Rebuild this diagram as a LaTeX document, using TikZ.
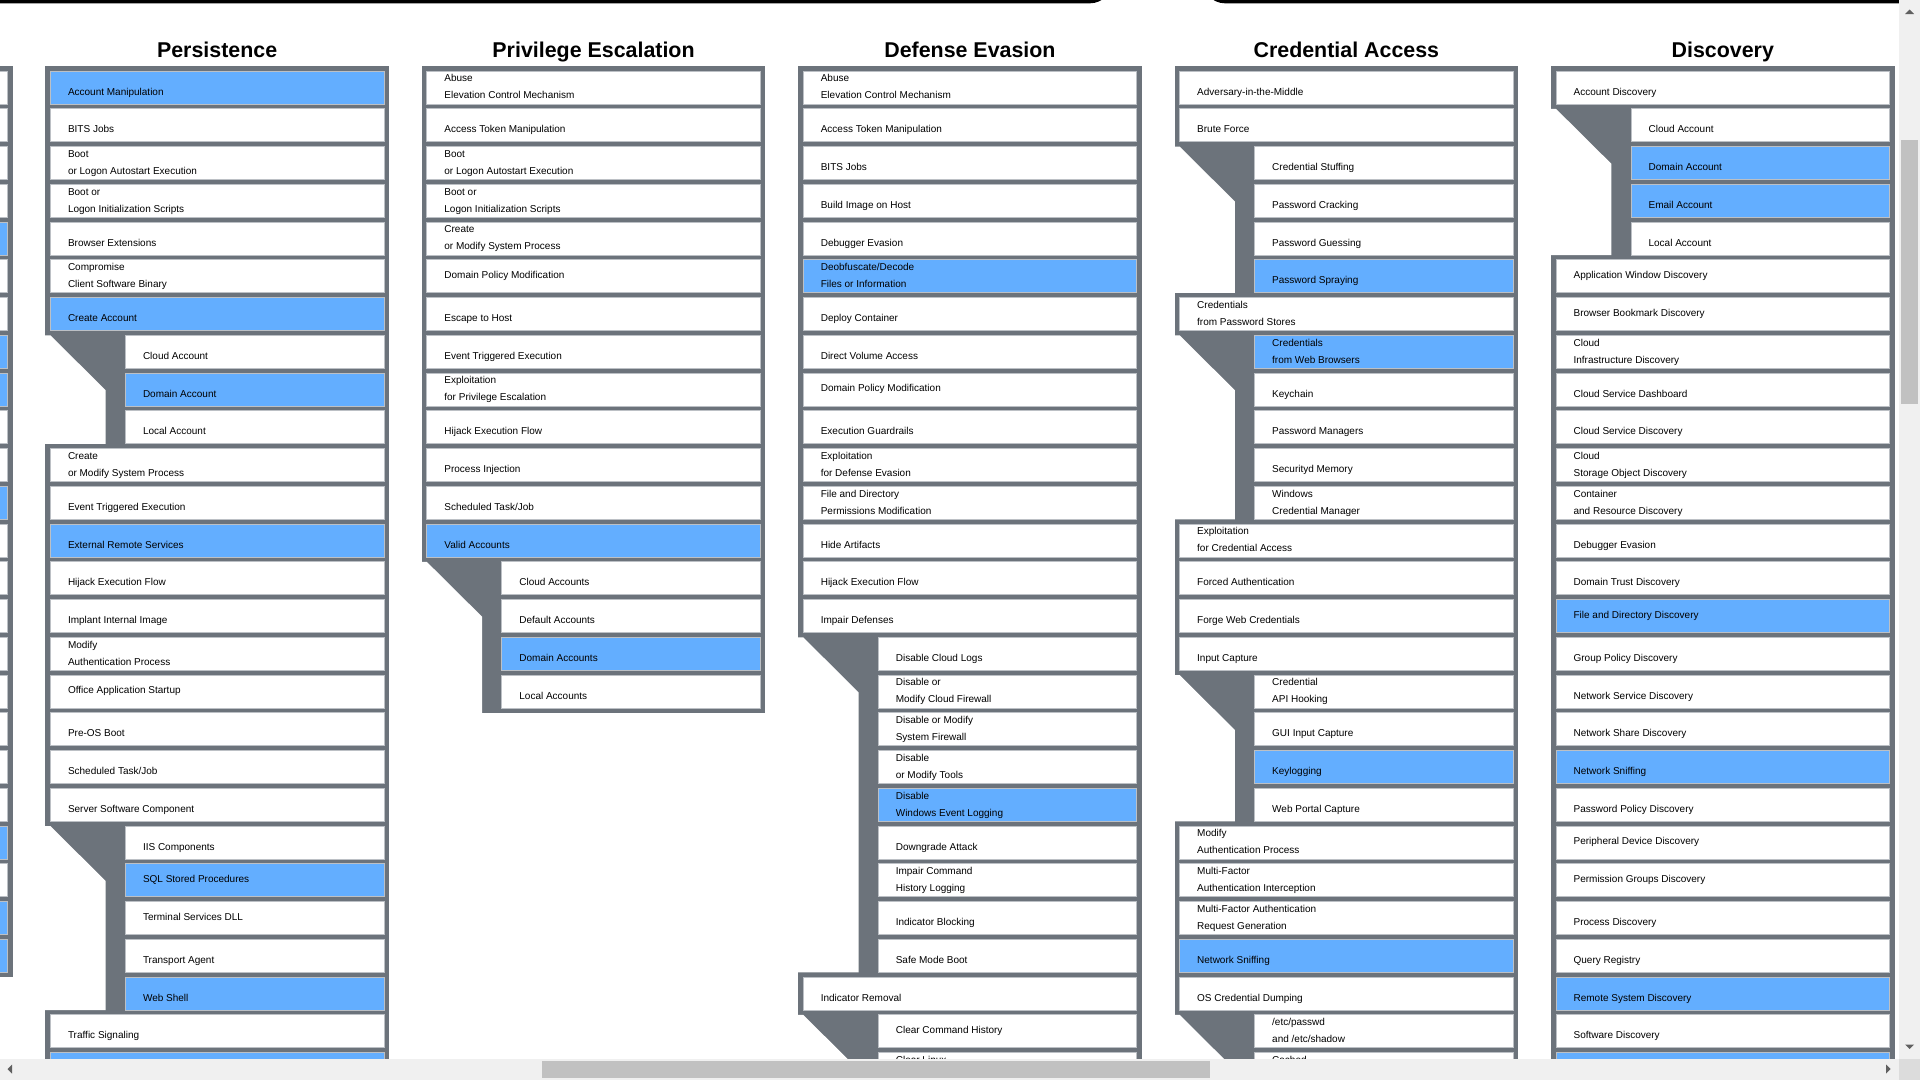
\documentclass[tikz,border=0pt]{standalone}
\usepackage{fontspec}
\setmainfont{Liberation Sans}
\definecolor{frgray}{RGB}{108,115,123}
\definecolor{cb}{RGB}{99,174,255}
\definecolor{cw}{RGB}{255,255,255}
\definecolor{cline}{RGB}{188,192,197}
\definecolor{sbbg}{RGB}{240,240,240}
\definecolor{sbthumb}{RGB}{193,193,193}
\definecolor{sbcorner}{RGB}{220,220,220}
\definecolor{sbarrow}{RGB}{96,96,96}
\tikzset{
  cellbox/.style={rectangle,draw=cline,line width=0.8bp,minimum height=33bp,inner sep=0pt,outer sep=0pt},
  lbl/.style={anchor=base west,inner sep=0pt,outer sep=0pt,font=\fontsize{10bp}{12bp}\selectfont,text=black},
  ttl/.style={anchor=base,inner sep=0pt,font=\fontsize{21.4bp}{24bp}\selectfont\bfseries,text=black},
  colframe/.style={fill=frgray},
  subgapfill/.style={fill=white}
}
% #1 column, #2 row, #3 sub(0/1), #4 fill colour, #5 mode (0 low,1 centred,2 two lines), #6 line1, #7 line2
\newcommand\tcell[7]{%
  \pgfmathsetmacro\Lx{45.3+376.4*#1}%
  \pgfmathsetmacro\cX{\Lx+(#3==1?80:5)}%
  \pgfmathsetmacro\cW{(#3==1?258.7:333.7)}%
  \pgfmathsetmacro\cY{71+37.75*#2}%
  \node[cellbox,fill=#4,minimum width=\cW bp,anchor=north west] (c#1-#2) at (\cX,\cY) {};%
  \ifcase#5
    \node[lbl] (t#1-#2) at (\cX+17.7,\cY+24.2) {#6};%
  \or
    \node[lbl] (t#1-#2) at (\cX+17.7,\cY+18.7) {#6};%
  \or
    \node[lbl] (t#1-#2) at (\cX+17.7,\cY+10.9) {#6};%
    \node[lbl] (u#1-#2) at (\cX+17.7,\cY+27.9) {#7};%
  \fi}
% left partial column cell: #1 row, #2 colour
\newcommand\lcell[2]{%
  \pgfmathsetmacro\cY{71+37.75*#1}%
  \node[cellbox,fill=#2,minimum width=333.7bp,anchor=north west] (e-#1) at (-326.1,\cY) {};}
% white area left of a sub-technique bar: #1 column, #2 parent row, #3 bottom y
\newcommand\subgap[3]{%
  \pgfmathsetmacro\Lx{45.3+376.4*#1}%
  \pgfmathsetmacro\yA{71+37.75*(#2+1)}%
  \fill[subgapfill] (\Lx-0.6,\yA) -- (\Lx+5,\yA) -- (\Lx+60.4,\yA+55) -- (\Lx+60.4,#3) -- (\Lx-0.6,#3) -- cycle;}
% column frame: #1 column, #2 bottom y
\newcommand\colframe[2]{%
  \pgfmathsetmacro\Lx{45.3+376.4*#1}%
  \fill[colframe] (\Lx,66) rectangle (\Lx+343.7,#2);}

\begin{document}
\begin{tikzpicture}[x=1bp,y=-1bp]
\useasboundingbox (0,0) rectangle (1920,1080);
\fill[white] (0,0) rectangle (1920,1080);

\begin{scope}
\clip (0,0) rectangle (1899,1059);
% top bars
\fill[black,rounded corners=22bp] (-80,-40) rectangle (1112,3.3);
\fill[black,rounded corners=22bp] (1203,-40) rectangle (1990,3.3);

% titles
\node[ttl] (h0) at (217.15,57) {Persistence};
\node[ttl] (h1) at (593.55,57) {Privilege Escalation};
\node[ttl] (h2) at (969.95,57) {Defense Evasion};
\node[ttl] (h3) at (1346.35,57) {Credential Access};
\node[ttl] (h4) at (1722.75,57) {Discovery};

% frames
\colframe{-1}{977.25}
\colframe{0}{1100}
\colframe{1}{713}
\colframe{2}{1100}
\colframe{3}{1100}
\colframe{4}{1100}

% sub-technique gaps
\subgap{0}{6}{443.75}
\subgap{0}{19}{1010}
\subgap{1}{12}{713}
\subgap{2}{14}{972.25}
\subgap{2}{24}{1100}
\subgap{3}{1}{292.75}
\subgap{3}{6}{519.25}
\subgap{3}{15}{821.25}
\subgap{3}{24}{1100}
\subgap{4}{0}{255}

% left partial column
\lcell{0}{cw}\lcell{1}{cw}\lcell{2}{cw}\lcell{3}{cw}\lcell{4}{cb}\lcell{5}{cw}
\lcell{6}{cw}\lcell{7}{cb}\lcell{8}{cb}\lcell{9}{cw}\lcell{10}{cw}\lcell{11}{cb}
\lcell{12}{cw}\lcell{13}{cw}\lcell{14}{cw}\lcell{15}{cw}\lcell{16}{cw}\lcell{17}{cw}
\lcell{18}{cw}\lcell{19}{cw}\lcell{20}{cb}\lcell{21}{cw}\lcell{22}{cb}\lcell{23}{cb}

% Persistence
\tcell{0}{0}{0}{cb}{0}{Account Manipulation}{}
\tcell{0}{1}{0}{cw}{0}{BITS Jobs}{}
\tcell{0}{2}{0}{cw}{2}{Boot}{or Logon Autostart Execution}
\tcell{0}{3}{0}{cw}{2}{Boot or}{Logon Initialization Scripts}
\tcell{0}{4}{0}{cw}{0}{Browser Extensions}{}
\tcell{0}{5}{0}{cw}{2}{Compromise}{Client Software Binary}
\tcell{0}{6}{0}{cb}{0}{Create Account}{}
\tcell{0}{7}{1}{cw}{0}{Cloud Account}{}
\tcell{0}{8}{1}{cb}{0}{Domain Account}{}
\tcell{0}{9}{1}{cw}{0}{Local Account}{}
\tcell{0}{10}{0}{cw}{2}{Create}{or Modify System Process}
\tcell{0}{11}{0}{cw}{0}{Event Triggered Execution}{}
\tcell{0}{12}{0}{cb}{0}{External Remote Services}{}
\tcell{0}{13}{0}{cw}{0}{Hijack Execution Flow}{}
\tcell{0}{14}{0}{cw}{0}{Implant Internal Image}{}
\tcell{0}{15}{0}{cw}{2}{Modify}{Authentication Process}
\tcell{0}{16}{0}{cw}{1}{Office Application Startup}{}
\tcell{0}{17}{0}{cw}{0}{Pre-OS Boot}{}
\tcell{0}{18}{0}{cw}{0}{Scheduled Task/Job}{}
\tcell{0}{19}{0}{cw}{0}{Server Software Component}{}
\tcell{0}{20}{1}{cw}{0}{IIS Components}{}
\tcell{0}{21}{1}{cb}{1}{SQL Stored Procedures}{}
\tcell{0}{22}{1}{cw}{1}{Terminal Services DLL}{}
\tcell{0}{23}{1}{cw}{0}{Transport Agent}{}
\tcell{0}{24}{1}{cb}{0}{Web Shell}{}
\tcell{0}{25}{0}{cw}{0}{Traffic Signaling}{}
\tcell{0}{26}{0}{cb}{0}{}{}

% Privilege Escalation
\tcell{1}{0}{0}{cw}{2}{Abuse}{Elevation Control Mechanism}
\tcell{1}{1}{0}{cw}{0}{Access Token Manipulation}{}
\tcell{1}{2}{0}{cw}{2}{Boot}{or Logon Autostart Execution}
\tcell{1}{3}{0}{cw}{2}{Boot or}{Logon Initialization Scripts}
\tcell{1}{4}{0}{cw}{2}{Create}{or Modify System Process}
\tcell{1}{5}{0}{cw}{1}{Domain Policy Modification}{}
\tcell{1}{6}{0}{cw}{0}{Escape to Host}{}
\tcell{1}{7}{0}{cw}{0}{Event Triggered Execution}{}
\tcell{1}{8}{0}{cw}{2}{Exploitation}{for Privilege Escalation}
\tcell{1}{9}{0}{cw}{0}{Hijack Execution Flow}{}
\tcell{1}{10}{0}{cw}{0}{Process Injection}{}
\tcell{1}{11}{0}{cw}{0}{Scheduled Task/Job}{}
\tcell{1}{12}{0}{cb}{0}{Valid Accounts}{}
\tcell{1}{13}{1}{cw}{0}{Cloud Accounts}{}
\tcell{1}{14}{1}{cw}{0}{Default Accounts}{}
\tcell{1}{15}{1}{cb}{0}{Domain Accounts}{}
\tcell{1}{16}{1}{cw}{0}{Local Accounts}{}

% Defense Evasion
\tcell{2}{0}{0}{cw}{2}{Abuse}{Elevation Control Mechanism}
\tcell{2}{1}{0}{cw}{0}{Access Token Manipulation}{}
\tcell{2}{2}{0}{cw}{0}{BITS Jobs}{}
\tcell{2}{3}{0}{cw}{0}{Build Image on Host}{}
\tcell{2}{4}{0}{cw}{0}{Debugger Evasion}{}
\tcell{2}{5}{0}{cb}{2}{Deobfuscate/Decode}{Files or Information}
\tcell{2}{6}{0}{cw}{0}{Deploy Container}{}
\tcell{2}{7}{0}{cw}{0}{Direct Volume Access}{}
\tcell{2}{8}{0}{cw}{1}{Domain Policy Modification}{}
\tcell{2}{9}{0}{cw}{0}{Execution Guardrails}{}
\tcell{2}{10}{0}{cw}{2}{Exploitation}{for Defense Evasion}
\tcell{2}{11}{0}{cw}{2}{File and Directory}{Permissions Modification}
\tcell{2}{12}{0}{cw}{0}{Hide Artifacts}{}
\tcell{2}{13}{0}{cw}{0}{Hijack Execution Flow}{}
\tcell{2}{14}{0}{cw}{0}{Impair Defenses}{}
\tcell{2}{15}{1}{cw}{0}{Disable Cloud Logs}{}
\tcell{2}{16}{1}{cw}{2}{Disable or}{Modify Cloud Firewall}
\tcell{2}{17}{1}{cw}{2}{Disable or Modify}{System Firewall}
\tcell{2}{18}{1}{cw}{2}{Disable}{or Modify Tools}
\tcell{2}{19}{1}{cb}{2}{Disable}{Windows Event Logging}
\tcell{2}{20}{1}{cw}{0}{Downgrade Attack}{}
\tcell{2}{21}{1}{cw}{2}{Impair Command}{History Logging}
\tcell{2}{22}{1}{cw}{0}{Indicator Blocking}{}
\tcell{2}{23}{1}{cw}{0}{Safe Mode Boot}{}
\tcell{2}{24}{0}{cw}{0}{Indicator Removal}{}
\tcell{2}{25}{1}{cw}{1}{Clear Command History}{}
\tcell{2}{26}{1}{cw}{2}{Clear Linux}{or Mac System Logs}

% Credential Access
\tcell{3}{0}{0}{cw}{0}{Adversary-in-the-Middle}{}
\tcell{3}{1}{0}{cw}{0}{Brute Force}{}
\tcell{3}{2}{1}{cw}{0}{Credential Stuffing}{}
\tcell{3}{3}{1}{cw}{0}{Password Cracking}{}
\tcell{3}{4}{1}{cw}{0}{Password Guessing}{}
\tcell{3}{5}{1}{cb}{0}{Password Spraying}{}
\tcell{3}{6}{0}{cw}{2}{Credentials}{from Password Stores}
\tcell{3}{7}{1}{cb}{2}{Credentials}{from Web Browsers}
\tcell{3}{8}{1}{cw}{0}{Keychain}{}
\tcell{3}{9}{1}{cw}{0}{Password Managers}{}
\tcell{3}{10}{1}{cw}{0}{Securityd Memory}{}
\tcell{3}{11}{1}{cw}{2}{Windows}{Credential Manager}
\tcell{3}{12}{0}{cw}{2}{Exploitation}{for Credential Access}
\tcell{3}{13}{0}{cw}{0}{Forced Authentication}{}
\tcell{3}{14}{0}{cw}{0}{Forge Web Credentials}{}
\tcell{3}{15}{0}{cw}{0}{Input Capture}{}
\tcell{3}{16}{1}{cw}{2}{Credential}{API Hooking}
\tcell{3}{17}{1}{cw}{0}{GUI Input Capture}{}
\tcell{3}{18}{1}{cb}{0}{Keylogging}{}
\tcell{3}{19}{1}{cw}{0}{Web Portal Capture}{}
\tcell{3}{20}{0}{cw}{2}{Modify}{Authentication Process}
\tcell{3}{21}{0}{cw}{2}{Multi-Factor}{Authentication Interception}
\tcell{3}{22}{0}{cw}{2}{Multi-Factor Authentication}{Request Generation}
\tcell{3}{23}{0}{cb}{0}{Network Sniffing}{}
\tcell{3}{24}{0}{cw}{0}{OS Credential Dumping}{}
\tcell{3}{25}{1}{cw}{2}{/etc/passwd}{and /etc/shadow}
\tcell{3}{26}{1}{cw}{2}{Cached}{Domain Credentials}

% Discovery
\tcell{4}{0}{0}{cw}{0}{Account Discovery}{}
\tcell{4}{1}{1}{cw}{0}{Cloud Account}{}
\tcell{4}{2}{1}{cb}{0}{Domain Account}{}
\tcell{4}{3}{1}{cb}{0}{Email Account}{}
\tcell{4}{4}{1}{cw}{0}{Local Account}{}
\tcell{4}{5}{0}{cw}{1}{Application Window Discovery}{}
\tcell{4}{6}{0}{cw}{1}{Browser Bookmark Discovery}{}
\tcell{4}{7}{0}{cw}{2}{Cloud}{Infrastructure Discovery}
\tcell{4}{8}{0}{cw}{0}{Cloud Service Dashboard}{}
\tcell{4}{9}{0}{cw}{0}{Cloud Service Discovery}{}
\tcell{4}{10}{0}{cw}{2}{Cloud}{Storage Object Discovery}
\tcell{4}{11}{0}{cw}{2}{Container}{and Resource Discovery}
\tcell{4}{12}{0}{cw}{0}{Debugger Evasion}{}
\tcell{4}{13}{0}{cw}{0}{Domain Trust Discovery}{}
\tcell{4}{14}{0}{cb}{1}{File and Directory Discovery}{}
\tcell{4}{15}{0}{cw}{0}{Group Policy Discovery}{}
\tcell{4}{16}{0}{cw}{0}{Network Service Discovery}{}
\tcell{4}{17}{0}{cw}{0}{Network Share Discovery}{}
\tcell{4}{18}{0}{cb}{0}{Network Sniffing}{}
\tcell{4}{19}{0}{cw}{0}{Password Policy Discovery}{}
\tcell{4}{20}{0}{cw}{1}{Peripheral Device Discovery}{}
\tcell{4}{21}{0}{cw}{1}{Permission Groups Discovery}{}
\tcell{4}{22}{0}{cw}{0}{Process Discovery}{}
\tcell{4}{23}{0}{cw}{0}{Query Registry}{}
\tcell{4}{24}{0}{cb}{0}{Remote System Discovery}{}
\tcell{4}{25}{0}{cw}{0}{Software Discovery}{}
\tcell{4}{26}{0}{cb}{0}{}{}
\end{scope}

% scrollbars
\fill[sbbg] (1899,0) rectangle (1920,1059);
\fill[sbthumb] (1901,140) rectangle (1918,404);
\fill[sbbg] (0,1059) rectangle (1899,1080);
\fill[sbthumb] (542,1061) rectangle (1210,1077.7);
\fill[sbcorner] (1899,1059) rectangle (1920,1080);
\fill[sbarrow] (1905,14) -- (1914,14) -- (1909.5,9.5) -- cycle;
\fill[sbarrow] (1905,1044.5) -- (1914,1044.5) -- (1909.5,1049) -- cycle;
\fill[sbarrow] (12,1064.5) -- (12,1073.5) -- (7.5,1069) -- cycle;
\fill[sbarrow] (1886,1064.5) -- (1886,1073.5) -- (1890.5,1069) -- cycle;
\end{tikzpicture}
\end{document}
